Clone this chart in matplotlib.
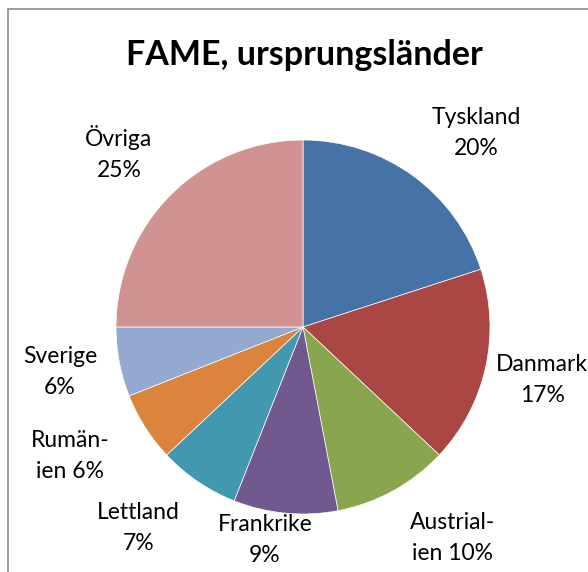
import matplotlib.pyplot as plt
from matplotlib.patches import Rectangle

# data
labels = ['Tyskland', 'Danmark', 'Austrial-\nien', 'Frankrike', 'Lettland',
          'Rumän-\nien', 'Sverige', 'Övriga']
shares = [20, 17, 10, 9, 7, 6, 6, 25]
colors = ['#4572A7', '#AA4643', '#89A54E', '#71588F', '#4198AF',
          '#DB843D', '#93A9CF', '#D19392']
title = 'FAME, ursprungsländer'

# label positions (pie radius = 1, centre at 0,0)
label_xy = [(0.925, 1.037), (1.28, -0.283), (0.80, -1.13), (-0.203, -1.14),
            (-0.88, -1.075), (-1.246, -0.69), (-1.30, -0.24), (-0.984, 0.93)]

plt.rcParams['font.family'] = ['Lato', 'DejaVu Sans']

fig = plt.figure(figsize=(5.88, 5.72), dpi=100)
ax = fig.add_axes([0, 0, 1, 1])

wedges, _ = ax.pie(shares, colors=colors, startangle=90, counterclock=False,
                   radius=1, center=(0, 0),
                   wedgeprops=dict(edgecolor='white', linewidth=0.5))

for lab, val, (x, y) in zip(labels, shares, label_xy):
    if '\n' in lab:
        txt = lab + ' %d%%' % val
    else:
        txt = lab + '\n%d%%' % val
    ax.text(x, y, txt, ha='center', va='center', fontsize=16.5,
            linespacing=1.6, color='black')

# pixel -> data mapping: centre (303,327), r=187 px
sc = 187.0
ax.set_xlim(-303 / sc, (588 - 303) / sc)
ax.set_ylim(-(572 - 327) / sc, 327 / sc)
ax.set_aspect('auto')
ax.axis('off')

fig.text(304 / 588, 1 - 55 / 572, title, ha='center', va='center',
         fontsize=24.5, fontweight='bold')

# chart frame (only left and top edges visible)
fig.patches.append(Rectangle((8 / 588, -0.1), 1.2, 1 - 9 / 572 + 0.1,
                             transform=fig.transFigure, fill=False,
                             edgecolor='#8c8c8c', linewidth=1.2))

fig.savefig('out.png', dpi=100)
